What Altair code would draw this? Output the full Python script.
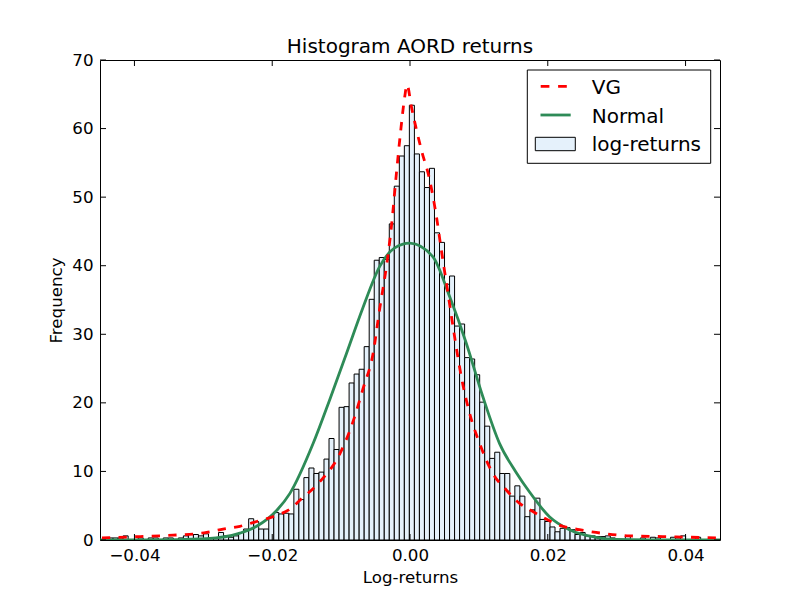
import altair as alt
import pandas as pd

# ---------------- data ----------------
bin_width = 0.000729
first_edge = -0.04456
hist_heights = [
    0.3, 0.3, 0.3, 0.3, 0.6, 0, 0, 0.3, 0, 0.3,
    0.3, 0, 0.3, 0.3, 0, 0.3, 0.6, 0.8, 0.8, 0.6,
    0.9, 0.3, 0.3, 1.1, 0.6, 0.4, 0.6, 1.1, 1.6, 3.1,
    2.7, 1.6, 1.6, 3.3, 4.0, 3.8, 3.9, 3.8, 7.4, 5.9,
    9.1, 10.5, 9.7, 9.9, 11.8, 14.8, 13.2, 19.35, 19.45, 22.9,
    24.2, 24.9, 28.2, 35.1, 40.8, 41.2, 40.9, 46.1, 51.6, 56.0,
    57.5, 63.4, 56.3, 53.7, 51.4, 54.2, 44.8, 43.4, 37.3, 38.5,
    31.2, 31.5, 26.6, 26.4, 24.1, 20.1, 16.6, 11.9, 12.8, 9.7,
    9.7, 6.4, 7.9, 6.4, 3.4, 4.4, 6.1, 3.0, 2.7, 1.9,
    1.2, 1.7, 1.8, 1.5, 0.8, 1.1, 0.6, 0.6, 0.5, 0.5,
    0.6, 0.3, 0, 0, 0.6, 0, 0, 0.3, 0, 0.4,
    0.3, 0, 0, 0.4, 0.3, 0.6, 0, 0, 0.4, 0,
    0, 0,
]

vg_x = [-0.04472, -0.03917, -0.03439, -0.02951, -0.02714, -0.02468, -0.02226,
        -0.01936, -0.01743, -0.01599, -0.01309, -0.01017, -0.00826, -0.00681,
        -0.00536, -0.00439, -0.00342, -0.00270, -0.00197, -0.00139, -0.00077,
        -0.00043, 0.00020, 0.00165, 0.00286, 0.00383, 0.00455, 0.00551,
        0.00648, 0.00745, 0.00865, 0.01010, 0.01203, 0.01397, 0.01590,
        0.01760, 0.01928, 0.02217, 0.02459, 0.02701, 0.03184, 0.03667, 0.04441]
vg_y = [0.3, 0.5, 0.7, 1.1, 1.6, 2.0, 2.7,
        3.6, 4.5, 5.8, 8.5, 12.6, 17.3, 22.1,
        27.2, 33.8, 39.9, 45.7, 53.5, 59.3, 64.6,
        66.4, 63.2, 56.9, 52.5, 47.2, 42.3, 36.0,
        29.6, 23.8, 18.5, 14.1, 9.7, 7.3, 5.35,
        4.3, 3.3, 2.0, 1.5, 1.1, 0.6, 0.5, 0.3]

norm_x = [-0.045, -0.03772, -0.02951, -0.02468, -0.02226, -0.01936, -0.01743,
          -0.01405, -0.01164, -0.00922, -0.00686, -0.00439, -0.00222, -0.00004,
          0.00333, 0.00575, 0.00817, 0.01054, 0.01299, 0.01532, 0.01735,
          0.02024, 0.02314, 0.02701, 0.02991, 0.03909, 0.045]
norm_y = [0.0, 0.0, 0.2, 1.0, 2.0, 4.3, 6.8,
          14.1, 20.5, 27.2, 33.8, 39.9, 42.6, 43.3,
          41.3, 35.5, 28.7, 21.0, 14.1, 10.0, 7.0,
          3.4, 1.5, 0.4, 0.1, 0.0, 0.0]

x_ticks = [-0.04, -0.02, 0.0, 0.02, 0.04]
y_ticks = [0, 10, 20, 30, 40, 50, 60, 70]

title_text = "Histogram AORD returns"
x_title = "Log-returns"
y_title = "Frequency"
legend_labels = ["VG", "Normal", "log-returns"]

# ---------------- styling ----------------
FONT = "DejaVu Sans"
W, H = 620, 480
BAR_FILL = "#E5F1FB"
RED = "#FF0000"
GREEN = "#2E8B57"

hist_df = pd.DataFrame({
    "x": [first_edge + i * bin_width for i in range(len(hist_heights))],
    "x_end": [first_edge + (i + 1) * bin_width for i in range(len(hist_heights))],
    "y": hist_heights,
})
hist_df = hist_df[hist_df["y"] > 0]
vg_df = pd.DataFrame({"x": vg_x, "y": vg_y})
norm_df = pd.DataFrame({"x": norm_x, "y": norm_y})
xt_df = pd.DataFrame({"x": x_ticks})
yt_df = pd.DataFrame({"y": y_ticks})

x_scale = alt.Scale(domain=[-0.045, 0.045], nice=False, zero=False)
y_scale = alt.Scale(domain=[0, 70], nice=False, zero=False)

x_axis = alt.Axis(
    values=x_ticks, title=x_title, grid=False, ticks=False, domain=False,
    labelExpr="replace(format(datum.value, '.2f'), '-', '\u2212')",
    labelPadding=7, titlePadding=6, labelFlush=False,
)
y_axis = alt.Axis(
    values=y_ticks, title=y_title, grid=False, ticks=False, domain=False,
    format="d", labelPadding=7, titlePadding=6,
)

bars = alt.Chart(hist_df).mark_rect(
    fill=BAR_FILL, stroke="black", strokeWidth=1, clip=True
).encode(
    x=alt.X("x:Q", scale=x_scale, axis=x_axis),
    x2="x_end:Q",
    y=alt.Y("y:Q", scale=y_scale, axis=y_axis),
    y2=alt.datum(0),
)

vg_line = alt.Chart(vg_df).mark_line(
    color=RED, strokeWidth=2.8, strokeDash=[8.3, 8.3], interpolate="monotone", clip=True
).encode(
    x=alt.X("x:Q", scale=x_scale, axis=x_axis),
    y=alt.Y("y:Q", scale=y_scale, axis=y_axis),
)

norm_line = alt.Chart(norm_df).mark_line(
    color=GREEN, strokeWidth=2.8, interpolate="monotone", clip=True
).encode(
    x=alt.X("x:Q", scale=x_scale, axis=x_axis),
    y=alt.Y("y:Q", scale=y_scale, axis=y_axis),
)

TL = 6
xt_bottom = alt.Chart(xt_df).mark_rule(color="black", strokeWidth=1).encode(
    x=alt.X("x:Q", scale=x_scale, axis=x_axis), y=alt.value(H), y2=alt.value(H - TL))
xt_top = alt.Chart(xt_df).mark_rule(color="black", strokeWidth=1).encode(
    x=alt.X("x:Q", scale=x_scale, axis=x_axis), y=alt.value(0), y2=alt.value(TL))
yt_left = alt.Chart(yt_df).mark_rule(color="black", strokeWidth=1).encode(
    y=alt.Y("y:Q", scale=y_scale, axis=y_axis), x=alt.value(0), x2=alt.value(TL))
yt_right = alt.Chart(yt_df).mark_rule(color="black", strokeWidth=1).encode(
    y=alt.Y("y:Q", scale=y_scale, axis=y_axis), x=alt.value(W), x2=alt.value(W - TL))

# ---------------- title and legend (drawn in plot pixel space) ----------------
one = pd.DataFrame({"a": [0]})
title_mark = alt.Chart(pd.DataFrame({"t": [title_text]})).mark_text(
    align="center", baseline="alphabetic", font=FONT, fontSize=20, color="black"
).encode(x=alt.value(W / 2), y=alt.value(-7), text="t:N")

leg_frame = alt.Chart(one).mark_rect(fill="white", stroke="black", strokeWidth=1).encode(
    x=alt.value(427.3), x2=alt.value(610.7), y=alt.value(10), y2=alt.value(103.3))
leg_vg = alt.Chart(one).mark_rule(color=RED, strokeWidth=2.8, strokeDash=[8.7, 8.7]).encode(
    x=alt.value(440.7), x2=alt.value(466.9), y=alt.value(26.3))
leg_norm = alt.Chart(one).mark_rule(color=GREEN, strokeWidth=2.8).encode(
    x=alt.value(440.5), x2=alt.value(470.7), y=alt.value(55))
leg_bar = alt.Chart(one).mark_rect(fill=BAR_FILL, stroke="black", strokeWidth=1).encode(
    x=alt.value(435.3), x2=alt.value(475.3), y=alt.value(77.3), y2=alt.value(90.7))
leg_df = pd.DataFrame({"label": legend_labels, "yy": [33.5, 62.5, 91.0]})
leg_text = alt.Chart(leg_df).mark_text(
    align="left", baseline="alphabetic", font=FONT, fontSize=20, color="black"
).encode(
    x=alt.value(491.7), y=alt.Y("yy:Q", scale=None, axis=None), text="label:N")

chart = alt.layer(
    bars, norm_line, vg_line, xt_bottom, xt_top, yt_left, yt_right,
    leg_frame, leg_vg, leg_norm, leg_bar, leg_text, title_mark,
).properties(
    width=W, height=H,
    autosize=alt.AutoSizeParams(type="none"),
    padding={"left": 92, "top": 52, "right": 72, "bottom": 52},
).configure(
    background="white",
).configure_view(
    stroke="black", strokeWidth=1,
).configure_axis(
    labelFont=FONT, titleFont=FONT, labelFontSize=16.7, titleFontSize=16.7,
    labelColor="black", titleColor="black", titleFontWeight="normal",
)

chart.save("out.html", embed_options={"renderer": "svg", "actions": False})
